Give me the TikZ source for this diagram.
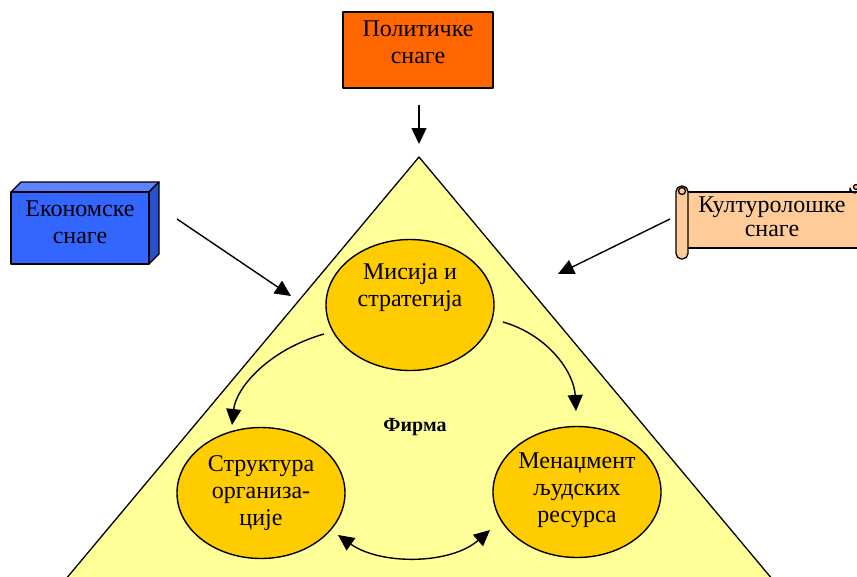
\documentclass[tikz,border=0pt]{standalone}
\usepackage{fontspec}
\setmainfont{Liberation Serif}
\usetikzlibrary{arrows.meta,shapes.geometric}
\definecolor{polor}{HTML}{FF6600}
\definecolor{ecfront}{HTML}{3366FF}
\definecolor{ectop}{HTML}{5C85FF}
\definecolor{ecside}{HTML}{2850CC}
\definecolor{firmy}{HTML}{FFFF99}
\definecolor{blobc}{HTML}{FFCC00}
\definecolor{scrollc}{HTML}{FFCC99}
\tikzset{
  lbl/.style={align=center,inner sep=0pt,font=\fontsize{24}{27}\selectfont},
  blob/.style={ellipse,draw,line width=1.4pt,fill=blobc,minimum width=168pt,minimum height=131pt,inner sep=0pt},
  conn/.style={line width=1.4pt,-{Triangle[length=16pt,width=15pt]}},
  dconn/.style={line width=1.4pt,{Triangle[length=16pt,width=15pt]}-{Triangle[length=16pt,width=15pt]}},
  edge/.style={line width=1.3pt,line join=round}
}
\begin{document}
\begin{tikzpicture}[x=1pt,y=-1pt]
\useasboundingbox (0,0) rectangle (857,576);
\clip (0,0) rectangle (857,576);
% triangle (firm)
\filldraw[edge,fill=firmy] (419,157) -- (55,592) -- (783,592) -- cycle;
\node[font=\fontsize{20}{22}\selectfont\bfseries] (firma) at (415,427) {Фирма};
% political box
\node[draw,edge,fill=polor,minimum width=150pt,minimum height=76pt,inner sep=0pt] (pol) at (418,50) {};
\node[lbl] (polt) at (418,42) {Политичке\\снаге};
% economic 3D box
\filldraw[edge,fill=ectop] (11,192) -- (21,182) -- (159,182) -- (149,192) -- cycle;
\filldraw[edge,fill=ecside] (149,192) -- (159,182) -- (159,254) -- (149,264) -- cycle;
\node[draw,edge,fill=ecfront,minimum width=138pt,minimum height=72pt,inner sep=0pt] (eco) at (80,228) {};
\node[lbl] (ecot) at (80,222) {Економске\\снаге};
% cultural scroll
\filldraw[edge,fill=scrollc] (682,192) -- (870,192) -- (870,248) -- (682,248) -- cycle;
\filldraw[edge,fill=scrollc] (850,192) -- (850,188) arc[start angle=180,end angle=90,radius=5] -- (870,183) -- (870,192) -- cycle;
\filldraw[edge,fill=scrollc] (856,187) circle[radius=2.5];
\filldraw[edge,fill=scrollc,rounded corners=5.5pt] (676,186) rectangle (688,259);
\filldraw[edge,fill=scrollc] (682,191) circle[radius=3.5];
\node[inner sep=0pt] (cul) at (770,220) {};
\node[lbl,font=\fontsize{24}{24}\selectfont] (cult) at (772,217) {Културолошке\\снаге};
% ellipses
\node[blob] (mis) at (410,305) {};
\node[lbl] (mist) at (410,288) {Мисија и\\стратегија};
\node[blob] (str) at (261,493) {};
\node[lbl] (strt) at (261,493) {Структура\\организа-\\ције};
\node[blob] (men) at (577,492) {};
\node[lbl] (ment) at (577,490) {Менаџмент\\људских\\ресурса};
% connector endpoints
\coordinate (p1) at (419,105);
\coordinate (p2) at (419,144);
\coordinate (e1) at (177,219);
\coordinate (e2) at (291,296);
\coordinate (c1) at (670,219);
\coordinate (c2) at (558,274);
\coordinate (m1) at (324,334);
\coordinate (m2) at (232,425);
\coordinate (m3) at (503,322);
\coordinate (m4) at (576,411);
\coordinate (b1) at (338,535);
\coordinate (b2) at (490,530);
% connectors
\draw[conn] (p1) -- (p2);
\draw[conn] (e1) -- (e2);
\draw[conn] (c1) -- (c2);
\draw[conn] (m1) .. controls (268,350) and (236,388) .. (m2);
\draw[conn] (m3) .. controls (548,335) and (574,372) .. (m4);
\draw[dconn] (b1) .. controls (380,565) and (450,565) .. (b2);
\end{tikzpicture}
\end{document}
